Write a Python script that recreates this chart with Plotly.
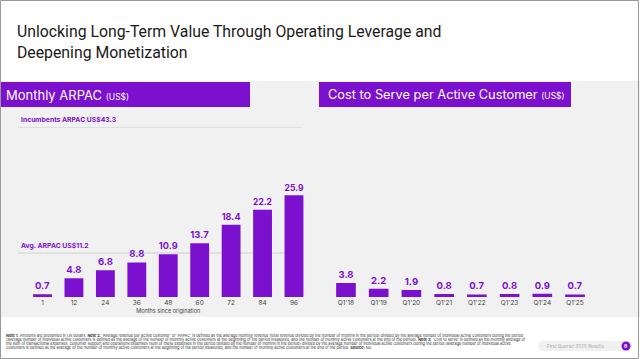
import plotly.graph_objects as go

W, H = 640, 359
PURPLE = "#7B10CF"

# ---- data ----
arpac_months = ["1", "12", "24", "36", "48", "60", "72", "84", "96"]
arpac_values = [0.7, 4.8, 6.8, 8.8, 10.9, 13.7, 18.4, 22.2, 25.9]
incumbents_arpac = 43.3
avg_arpac = 11.2

cts_quarters = ["Q1'18", "Q1'19", "Q1'20", "Q1'21", "Q1'22", "Q1'23", "Q1'24", "Q1'25"]
cts_values = [3.8, 2.2, 1.9, 0.8, 0.7, 0.8, 0.9, 0.7]

footnote_lines = [
    "<b>Note 1:</b> Amounts are presented in US dollars. <b>Note 2:</b> 'Average revenue per active customer' or 'ARPAC' is defined as the average monthly revenue (total revenue divided by the number of months in the period) divided by the average number of individual active customers during the period",
    "(average number of individual active customers is defined as the average of the number of monthly active customers at the beginning of the period measured, and the number of monthly active customers at the end of the period). <b>Note 3:</b> 'Cost to serve' is defined as the monthly average of",
    "the sum of transactional expenses, customer support and operations expenses (sum of these expenses in the period divided by the number of months in the period) divided by the average number of individual active customers during the period (average number of individual active",
    "customers is defined as the average of the number of monthly active customers at the beginning of the period measured, and the number of monthly active customers at the end of the period. <b>Source:</b> Nu.",
]


def xp(px):
    return px / W


def yp(py):
    return 1 - py / H


FONT = "Inter"

fig = go.Figure()
fig.add_trace(go.Bar(
    x=arpac_months, y=arpac_values, marker_color=PURPLE, marker_line_width=0,
    text=[f"{v:.1f}" for v in arpac_values], textposition="outside", cliponaxis=False,
    textfont=dict(color=PURPLE, size=9.5, family=FONT, weight="bold"),
    xaxis="x", yaxis="y", hoverinfo="skip",
))
fig.add_trace(go.Bar(
    x=cts_quarters, y=cts_values, marker_color=PURPLE, marker_line_width=0,
    text=[f"{v:.1f}" for v in cts_values], textposition="outside", cliponaxis=False,
    textfont=dict(color=PURPLE, size=9.5, family=FONT, weight="bold"),
    xaxis="x2", yaxis="y2", hoverinfo="skip",
))

base_py, top_py = 297, 127
ydom = [yp(base_py), yp(top_py)]

tickfont = dict(size=6.5, color="#444", family=FONT)
fig.update_layout(
    width=W, height=H, margin=dict(l=0, r=0, t=0, b=0),
    paper_bgcolor="white", plot_bgcolor="rgba(0,0,0,0)",
    showlegend=False, bargap=0.4, font=dict(family=FONT),
    xaxis=dict(domain=[xp(26.8), xp(309.7)], range=[-0.5, 8.5], type="category",
               showgrid=False, zeroline=False, showline=False, ticks="",
               tickfont=tickfont, anchor="y",
               title=dict(text="Months since origination", font=dict(size=5.5, color="#444", family=FONT), standoff=3)),
    yaxis=dict(domain=ydom, range=[0, incumbents_arpac], visible=False, anchor="x"),
    xaxis2=dict(domain=[xp(329.6), xp(591.4)], range=[-0.5, 7.5], type="category",
                showgrid=False, zeroline=False, showline=False, ticks="",
                tickfont=tickfont, anchor="y2"),
    yaxis2=dict(domain=ydom, range=[0, 46], visible=False, anchor="x2"),
)

shapes = []
# gray panel
shapes.append(dict(type="rect", xref="paper", yref="paper", x0=0, x1=1, y0=yp(317), y1=yp(81),
                   fillcolor="#F1F1F1", line_width=0, layer="below"))
# title bars
shapes.append(dict(type="rect", xref="paper", yref="paper", x0=xp(0), x1=xp(250), y0=yp(107), y1=yp(82),
                   fillcolor=PURPLE, line_width=0, layer="below"))
shapes.append(dict(type="rect", xref="paper", yref="paper", x0=xp(319), x1=xp(571), y0=yp(107), y1=yp(82),
                   fillcolor=PURPLE, line_width=0, layer="below"))
# reference lines
for val in (incumbents_arpac, avg_arpac):
    shapes.append(dict(type="line", xref="paper", yref="y", x0=xp(18), x1=xp(303), y0=val, y1=val,
                       line=dict(color="#CFCFCF", width=1), layer="below"))
# footer pill (rounded) and page circle
PILL = "#F0F0F0"
shapes.append(dict(type="rect", xref="paper", yref="paper", x0=xp(543), x1=xp(627), y0=yp(351), y1=yp(341),
                   fillcolor=PILL, line_width=0, layer="below"))
shapes.append(dict(type="circle", xref="paper", yref="paper", x0=xp(538), x1=xp(548), y0=yp(351), y1=yp(341),
                   fillcolor=PILL, line_width=0, layer="below"))
shapes.append(dict(type="circle", xref="paper", yref="paper", x0=xp(622), x1=xp(632), y0=yp(351), y1=yp(341),
                   fillcolor=PILL, line_width=0, layer="below"))
shapes.append(dict(type="circle", xref="paper", yref="paper", x0=xp(621.5), x1=xp(630.5), y0=yp(350.5), y1=yp(341.5),
                   fillcolor=PURPLE, line_width=0))
# page border
shapes.append(dict(type="rect", xref="paper", yref="paper", x0=xp(0.5), x1=xp(638.5), y0=yp(358.5), y1=yp(0.5),
                   line=dict(color="#9A9A9A", width=1), fillcolor="rgba(0,0,0,0)"))
fig.update_layout(shapes=shapes)

ann = []
ann.append(dict(xref="paper", yref="paper", x=xp(15), y=yp(20), xanchor="left", yanchor="top", align="left",
                text="Unlocking Long-Term Value Through Operating Leverage and<br>Deepening Monetization",
                showarrow=False, font=dict(size=15.8, color="#1A1A1A", family="Roboto")))
ann.append(dict(xref="paper", yref="paper", x=xp(4), y=yp(94.5), xanchor="left", yanchor="middle",
                text="Monthly ARPAC <span style='font-size:8.5px'>(US$)</span>",
                showarrow=False, font=dict(size=13, color="white", family=FONT)))
ann.append(dict(xref="paper", yref="paper", x=xp(326), y=yp(94.5), xanchor="left", yanchor="middle",
                text="Cost to Serve per Active Customer <span style='font-size:8.5px'>(US$)</span>",
                showarrow=False, font=dict(size=12.8, color="white", family=FONT)))
ann.append(dict(xref="paper", yref="y", x=xp(19), y=incumbents_arpac, xanchor="left", yanchor="bottom",
                yshift=1, text=f"Incumbents ARPAC US${incumbents_arpac}", showarrow=False,
                font=dict(size=6.8, color=PURPLE, family=FONT, weight="bold")))
ann.append(dict(xref="paper", yref="y", x=xp(19), y=avg_arpac, xanchor="left", yanchor="bottom",
                yshift=1, text=f"Avg. ARPAC US${avg_arpac}", showarrow=False,
                font=dict(size=6.8, color=PURPLE, family=FONT, weight="bold")))

for i, line in enumerate(footnote_lines):
    ann.append(dict(xref="paper", yref="paper", x=xp(4), y=yp(335 + 4 * i), xanchor="left", yanchor="middle",
                    align="left", text=line, showarrow=False,
                    font=dict(size=3.8, color="#333", family=FONT)))
ann.append(dict(xref="paper", yref="paper", x=xp(545), y=yp(346), xanchor="left", yanchor="middle",
                text="First Quarter 2025 Results", showarrow=False, font=dict(size=4.6, color="#AAAAAA", family=FONT)))
ann.append(dict(xref="paper", yref="paper", x=xp(626), y=yp(346), xanchor="center", yanchor="middle",
                text="8", showarrow=False, font=dict(size=5, color="white", family=FONT, weight="bold")))
fig.update_layout(annotations=ann)

fig.write_html("out.html", config={"displayModeBar": False},
               post_script="document.body.style.margin='0';document.body.style.padding='0';")
